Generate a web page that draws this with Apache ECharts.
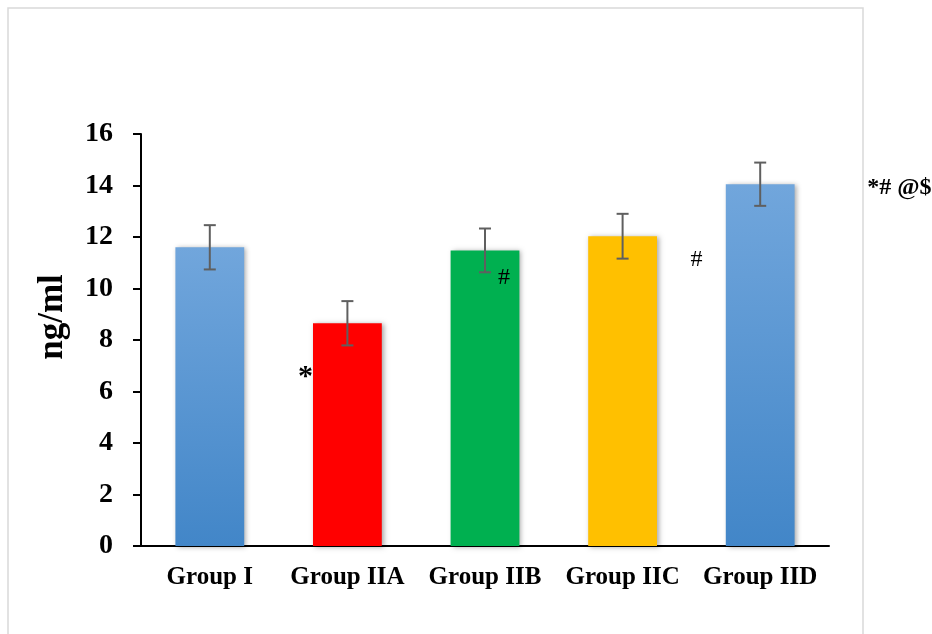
<!DOCTYPE html>
<html>
<head>
<meta charset="utf-8">
<script src="https://cdn.jsdelivr.net/npm/echarts@6/dist/echarts.min.js"></script>
<style>
html, body { margin: 0; padding: 0; background: #fff; }
#chart { width: 932px; height: 634px; }
</style>
</head>
<body>
<div id="chart"></div>
<script>
"use strict"

const groups = ["Group I", "Group IIA", "Group IIB", "Group IIC", "Group IID"];
const means = [11.6, 8.65, 11.48, 12.03, 14.05];
const errors = [0.86, 0.86, 0.85, 0.87, 0.84];
const yTicks = [0, 2, 4, 6, 8, 10, 12, 14, 16];
const yTitle = "ng/ml";
// [category index, value level, text]
const marks = [[1, 6.75, "*"], [2, 10.4, "#"], [3, 11.1, "#"], [4, 13.9, "*# @$"]];
const markShift = [-42, 19, 74, 107];

const serif = "Liberation Serif";
const blueGrad = new echarts.graphic.LinearGradient(0, 0, 0, 1, [
    { offset: 0, color: "#71a6dc" },
    { offset: 1, color: "#4286c8" }
]);
const barColors = [blueGrad, "#ff0000", "#00b050", "#ffc000", blueGrad];

const chart = echarts.init(document.getElementById("chart"), null, { renderer: "canvas" });

const option = {
    animation: false,
    backgroundColor: "#fff",
    grid: { left: 141, right: 103, top: 134, bottom: 88 },
    graphic: [
        {
            type: "rect",
            shape: { x: 8, y: 8, width: 855, height: 640 },
            style: { fill: null, stroke: "#d9d9d9", lineWidth: 1.5 },
            silent: true
        },
        {
            type: "text",
            x: 53,
            y: 317,
            rotation: Math.PI / 2,
            style: {
                text: yTitle,
                fill: "#000",
                font: "bold 35px " + serif,
                textAlign: "center",
                textVerticalAlign: "middle"
            },
            silent: true
        }
    ],
    xAxis: {
        type: "category",
        data: groups,
        axisLine: { lineStyle: { color: "#000", width: 2 } },
        axisTick: { show: false },
        axisLabel: { interval: 0, color: "#000", fontFamily: serif, fontWeight: "bold", fontSize: 25, margin: 19 }
    },
    yAxis: {
        type: "value",
        min: yTicks[0],
        max: yTicks[yTicks.length - 1],
        interval: 2,
        axisLine: { show: true, lineStyle: { color: "#000", width: 2 } },
        axisTick: { show: true, length: 8, inside: false, lineStyle: { color: "#000", width: 2 } },
        splitLine: { show: false },
        axisLabel: { color: "#000", fontFamily: serif, fontWeight: "bold", fontSize: 28, margin: 28 }
    },
    series: [
        {
            type: "bar",
            barWidth: "50%",
            data: means.map((v, i) => ({
                value: v,
                itemStyle: {
                    color: barColors[i],
                    shadowBlur: 5,
                    shadowColor: "rgba(0,0,0,0.35)",
                    shadowOffsetX: 2,
                    shadowOffsetY: 1
                }
            }))
        },
        {
            type: "custom",
            z: 5,
            data: means.map((v, i) => [i, v - errors[i], v + errors[i]]),
            renderItem: (params, api) => {
                const lo = api.coord([api.value(0), api.value(1)]);
                const hi = api.coord([api.value(0), api.value(2)]);
                const hw = 6;
                const st = { stroke: "#5f5f5f", lineWidth: 2 };
                return {
                    type: "group",
                    children: [
                        { type: "line", shape: { x1: lo[0], y1: lo[1], x2: hi[0], y2: hi[1] }, style: st },
                        { type: "line", shape: { x1: lo[0] - hw, y1: lo[1], x2: lo[0] + hw, y2: lo[1] }, style: st },
                        { type: "line", shape: { x1: hi[0] - hw, y1: hi[1], x2: hi[0] + hw, y2: hi[1] }, style: st }
                    ]
                };
            }
        },
        {
            type: "custom",
            z: 6,
            clip: false,
            data: marks,
            renderItem: (params, api) => {
                const p = api.coord([api.value(0), api.value(1)]);
                const txt = marks[params.dataIndex][2];
                const big = txt.length > 1;
                const font = big ? "bold 24px " : (txt === "*" ? "bold 30px " : "24px ");
                return {
                    type: "text",
                    x: p[0] + markShift[params.dataIndex],
                    y: p[1] + (txt === "*" ? 5 : 0),
                    style: {
                        text: txt,
                        fill: "#000",
                        font: font + serif,
                        textAlign: big ? "left" : "center",
                        textVerticalAlign: "middle"
                    }
                };
            }
        }
    ]
};

chart.setOption(option);
</script>
</body>
</html>
